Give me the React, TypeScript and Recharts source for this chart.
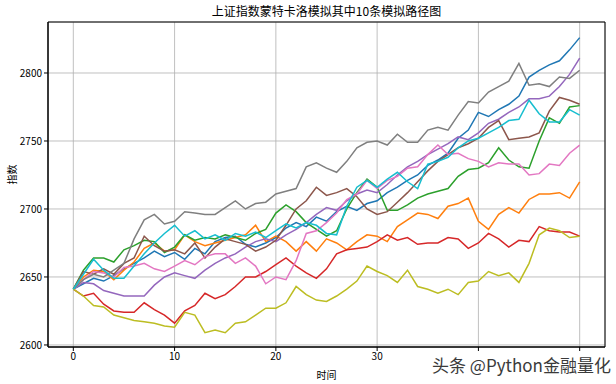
import React from 'react';
import { LineChart, Line, XAxis, YAxis, CartesianGrid, ReferenceArea, Label } from 'recharts';

const TITLE = '上证指数蒙特卡洛模拟其中10条模拟路径图';
const X_LABEL = '时间';
const Y_LABEL = '指数';
const WATERMARK = '头条 @Python金融量化';

const X_TICKS = [0, 10, 20, 30, 40, 50];
const X_TICKS_HIDDEN_BY_WATERMARK = [40, 50];
const Y_TICKS = [2600, 2650, 2700, 2750, 2800];

const path0 = [2641, 2645, 2649, 2647, 2651, 2656, 2660, 2664, 2669, 2665, 2668, 2663, 2671, 2667, 2676, 2679, 2680, 2674, 2672, 2675, 2679, 2686, 2690, 2687, 2694, 2691, 2698, 2702, 2699, 2704, 2706, 2712, 2716, 2721, 2725, 2732, 2736, 2741, 2752, 2758, 2771, 2768, 2773, 2777, 2783, 2797, 2802, 2806, 2809, 2817, 2826];
const path1 = [2641, 2650, 2655, 2654, 2648, 2655, 2661, 2671, 2675, 2669, 2670, 2681, 2676, 2673, 2675, 2677, 2679, 2681, 2688, 2676, 2680, 2676, 2669, 2676, 2669, 2678, 2675, 2670, 2676, 2681, 2680, 2676, 2687, 2692, 2697, 2696, 2693, 2702, 2704, 2708, 2691, 2685, 2696, 2701, 2697, 2707, 2711, 2711, 2712, 2708, 2720];
const path2 = [2641, 2655, 2664, 2664, 2661, 2670, 2673, 2677, 2676, 2668, 2672, 2681, 2677, 2679, 2678, 2681, 2679, 2677, 2682, 2685, 2697, 2703, 2698, 2690, 2685, 2680, 2684, 2700, 2712, 2722, 2716, 2699, 2699, 2703, 2708, 2711, 2713, 2715, 2724, 2729, 2730, 2734, 2745, 2736, 2731, 2730, 2750, 2767, 2763, 2775, 2776];
const path3 = [2641, 2636, 2638, 2630, 2625, 2624, 2624, 2631, 2626, 2622, 2616, 2625, 2629, 2638, 2634, 2637, 2643, 2650, 2650, 2654, 2659, 2664, 2658, 2653, 2649, 2656, 2667, 2670, 2671, 2672, 2676, 2681, 2677, 2679, 2674, 2675, 2675, 2679, 2678, 2671, 2675, 2682, 2678, 2672, 2677, 2676, 2687, 2684, 2683, 2683, 2680];
const path4 = [2641, 2646, 2645, 2640, 2638, 2636, 2636, 2636, 2644, 2650, 2653, 2651, 2649, 2655, 2660, 2664, 2667, 2672, 2676, 2678, 2676, 2681, 2685, 2690, 2696, 2701, 2699, 2706, 2711, 2714, 2712, 2718, 2725, 2731, 2735, 2740, 2744, 2748, 2753, 2751, 2756, 2763, 2766, 2771, 2775, 2781, 2781, 2783, 2790, 2799, 2811];
const path5 = [2641, 2654, 2652, 2656, 2652, 2660, 2664, 2680, 2673, 2669, 2670, 2667, 2675, 2664, 2672, 2678, 2676, 2674, 2669, 2672, 2677, 2688, 2700, 2706, 2716, 2710, 2712, 2715, 2709, 2700, 2696, 2698, 2705, 2712, 2720, 2728, 2735, 2740, 2745, 2748, 2752, 2760, 2765, 2751, 2752, 2753, 2756, 2772, 2782, 2780, 2777];
const path6 = [2641, 2648, 2654, 2653, 2650, 2657, 2658, 2660, 2656, 2654, 2658, 2662, 2659, 2665, 2667, 2667, 2660, 2664, 2658, 2645, 2650, 2648, 2662, 2682, 2684, 2690, 2697, 2707, 2711, 2721, 2715, 2721, 2724, 2730, 2731, 2740, 2747, 2740, 2741, 2737, 2735, 2731, 2734, 2733, 2733, 2725, 2726, 2733, 2732, 2741, 2747];
const path7 = [2641, 2648, 2652, 2650, 2655, 2660, 2678, 2692, 2696, 2689, 2691, 2698, 2697, 2696, 2696, 2701, 2706, 2700, 2704, 2705, 2711, 2713, 2715, 2731, 2734, 2730, 2727, 2735, 2745, 2749, 2750, 2747, 2755, 2749, 2749, 2758, 2760, 2758, 2769, 2779, 2778, 2786, 2790, 2794, 2807, 2791, 2792, 2790, 2797, 2796, 2802];
const path8 = [2641, 2636, 2629, 2628, 2622, 2620, 2618, 2617, 2616, 2614, 2613, 2624, 2622, 2609, 2611, 2609, 2616, 2617, 2622, 2627, 2627, 2631, 2643, 2637, 2633, 2632, 2636, 2641, 2647, 2658, 2654, 2651, 2646, 2655, 2643, 2641, 2638, 2641, 2637, 2646, 2647, 2654, 2651, 2653, 2646, 2660, 2681, 2686, 2684, 2679, 2680];
const path9 = [2641, 2652, 2663, 2655, 2649, 2649, 2658, 2667, 2675, 2682, 2688, 2680, 2684, 2678, 2681, 2677, 2682, 2680, 2683, 2679, 2684, 2689, 2686, 2690, 2688, 2682, 2681, 2702, 2716, 2721, 2716, 2722, 2727, 2720, 2715, 2733, 2735, 2738, 2745, 2750, 2752, 2756, 2760, 2765, 2766, 2780, 2770, 2764, 2764, 2773, 2769];

const SERIES = [
  { key: 'p0', color: '#1f77b4', values: path0 },
  { key: 'p1', color: '#ff7f0e', values: path1 },
  { key: 'p2', color: '#2ca02c', values: path2 },
  { key: 'p3', color: '#d62728', values: path3 },
  { key: 'p4', color: '#9467bd', values: path4 },
  { key: 'p5', color: '#8c564b', values: path5 },
  { key: 'p6', color: '#e377c2', values: path6 },
  { key: 'p7', color: '#7f7f7f', values: path7 },
  { key: 'p8', color: '#bcbd22', values: path8 },
  { key: 'p9', color: '#17becf', values: path9 },
];

const data = path0.map((_, i) => {
  const row: Record<string, number> = { t: i };
  SERIES.forEach((s) => {
    row[s.key] = s.values[i];
  });
  return row;
});

const FONT = '"Noto Sans CJK SC", "DejaVu Sans", sans-serif';

export default function App() {
  return (
    <div
      style={{
        position: 'absolute',
        left: 0,
        top: 0,
        width: 616,
        height: 384,
        background: '#fff',
        fontFamily: FONT,
        overflow: 'hidden',
      }}
    >
      <div
        style={{
          position: 'absolute',
          top: 3,
          left: 48,
          width: 557,
          textAlign: 'center',
          fontSize: 12,
          color: '#000',
          lineHeight: '16px',
        }}
      >
        {TITLE}
      </div>
      <LineChart
        width={616}
        height={384}
        data={data}
        margin={{ top: 22, right: 11, bottom: 0, left: 0 }}
        style={{ fontFamily: FONT }}
      >
        <CartesianGrid stroke="#b0b0b0" strokeWidth={0.8} />
        <XAxis
          dataKey="t"
          type="number"
          domain={[-2.5, 52.5]}
          ticks={X_TICKS}
          allowDataOverflow
          height={37}
          tickSize={4}
          stroke="#000"
          tick={{ fill: '#000', fontSize: 10 }}
          tickFormatter={(v: number) => (X_TICKS_HIDDEN_BY_WATERMARK.includes(v) ? '' : String(v))}
        >
          <Label value={X_LABEL} position="insideBottom" offset={5} fill="#000" fontSize={10} />
        </XAxis>
        <YAxis
          type="number"
          domain={[2598.5, 2837.5]}
          ticks={Y_TICKS}
          allowDataOverflow
          width={48}
          tickSize={4}
          stroke="#000"
          tick={{ fill: '#000', fontSize: 10 }}
        >
          <Label value={Y_LABEL} angle={-90} position="insideLeft" offset={12} fill="#000" fontSize={10} />
        </YAxis>
        {SERIES.map((s) => (
          <Line
            key={s.key}
            dataKey={s.key}
            stroke={s.color}
            strokeWidth={1.5}
            dot={false}
            isAnimationActive={false}
          />
        ))}
        <ReferenceArea
          x1={-2.5}
          x2={52.5}
          y1={2598.5}
          y2={2837.5}
          fill="none"
          stroke="#000"
          strokeWidth={1}
          ifOverflow="visible"
        />
      </LineChart>
      <div
        style={{
          position: 'absolute',
          left: 432,
          top: 351,
          height: 28,
          fontSize: 17,
          lineHeight: '28px',
          color: '#3a3a3a',
          whiteSpace: 'nowrap',
          textShadow: '0 0 2px #fff',
        }}
      >
        {WATERMARK}
      </div>
    </div>
  );
}
